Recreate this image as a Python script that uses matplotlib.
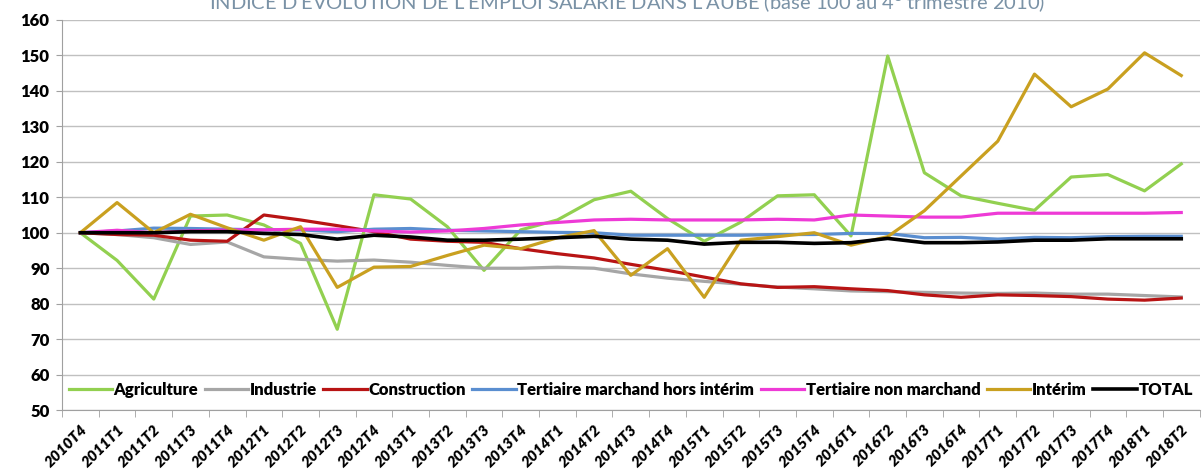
import matplotlib
matplotlib.use("Agg")
import matplotlib.pyplot as plt

quarters = ["2010T4", "2011T1", "2011T2", "2011T3", "2011T4", "2012T1", "2012T2", "2012T3",
            "2012T4", "2013T1", "2013T2", "2013T3", "2013T4", "2014T1", "2014T2", "2014T3",
            "2014T4", "2015T1", "2015T2", "2015T3", "2015T4", "2016T1", "2016T2", "2016T3",
            "2016T4", "2017T1", "2017T2", "2017T3", "2017T4", "2018T1", "2018T2"]

agriculture = [100, 92.2, 81.3, 104.7, 105, 102.2, 97, 72.8, 110.7, 109.5, 101.7, 89.4, 100.8,
               103.6, 109.3, 111.7, 104, 97.6, 103, 110.4, 110.7, 99.1, 149.8, 116.9, 110.4,
               108.3, 106.3, 115.7, 116.4, 111.8, 119.4]
industrie = [100, 99.5, 98.6, 96.7, 97.4, 93.2, 92.5, 92, 92.3, 91.7, 90.8, 90, 90, 90.3, 90,
             88.4, 87.2, 86.3, 85.5, 84.7, 84.2, 83.6, 83.4, 83.2, 83, 82.9, 83, 82.7, 82.7,
             82.3, 81.9]
construction = [100, 99.5, 99.3, 97.9, 97.6, 105, 103.6, 102, 100.3, 98.2, 97.6, 97.3, 95.5,
                94.1, 92.9, 91.1, 89.4, 87.5, 85.6, 84.6, 84.8, 84.2, 83.7, 82.5, 81.8, 82.5,
                82.3, 82, 81.3, 81, 81.6]
tertiaire_marchand = [100, 100.5, 101.3, 101.2, 101, 100.8, 100.8, 100.3, 101, 101.2, 100.7,
                      100.5, 100.3, 100.1, 100, 99.3, 99.3, 99.3, 99.3, 99.5, 99.5, 99.8, 99.8,
                      98.6, 98.7, 98.2, 98.7, 98.6, 98.9, 99, 99]
tertiaire_non_marchand = [100, 100.7, 100, 100.5, 100.8, 100.8, 101, 101, 100.5, 100.2, 100.5,
                          101.2, 102.2, 102.9, 103.6, 103.8, 103.6, 103.6, 103.6, 103.8, 103.6,
                          105, 104.7, 104.4, 104.4, 105.5, 105.5, 105.5, 105.5, 105.5, 105.7]
interim = [100, 108.5, 100, 105.2, 101.4, 97.9, 101.7, 84.6, 90.3, 90.5, 93.6, 96.5, 95.5,
           98.6, 100.6, 88, 95.5, 81.8, 97.9, 98.9, 100, 96.5, 98.9, 106.2, 116, 125.8, 144.7,
           135.5, 140.5, 150.7, 144.3]
total = [100, 100, 100, 100.3, 100.3, 99.8, 99.5, 98.2, 99.3, 98.8, 97.9, 97.9, 98.2, 98.6, 99,
         98.2, 97.9, 96.8, 97.3, 97.3, 97, 97.2, 98.4, 97.2, 97.2, 97.4, 97.9, 97.9, 98.3, 98.3,
         98.3]

series_names = ["Agriculture", "Industrie", "Construction", "Tertiaire marchand hors intérim",
                "Tertiaire non marchand", "Intérim", "TOTAL"]
y_ticks = [50, 60, 70, 80, 90, 100, 110, 120, 130, 140, 150, 160]

colors = ["#92d050", "#a6a6a6", "#b81414", "#5a8ed0", "#ee3ad6", "#c9a020", "#000000"]
widths = [2.3, 2.3, 2.3, 2.3, 2.3, 2.3, 2.6]
data = [agriculture, industrie, construction, tertiaire_marchand, tertiaire_non_marchand,
        interim, total]

FONT = ["Lato", "DejaVu Sans"]

fig = plt.figure(figsize=(12.02, 4.72), dpi=100)
ax = fig.add_axes([0.0516, 0.131, 0.9464, 0.827])

x = list(range(len(quarters)))
for vals, name, c, w in zip(data, series_names, colors, widths):
    ax.plot(x, vals, color=c, lw=w, label=name)

ax.set_xlim(-0.5, len(quarters) - 0.5)
ax.set_ylim(50, 160)
ax.set_yticks(y_ticks)
ax.set_yticklabels([str(v) for v in y_ticks], fontsize=12, fontweight="heavy", family=FONT)
ax.grid(axis="y", color="#c0c0c0", lw=1)
ax.set_axisbelow(True)

ax.set_xticks(x)
ax.set_xticklabels(quarters, rotation=45, ha="right", rotation_mode="anchor",
                   fontsize=11, fontweight="heavy", fontstyle="italic", family=FONT)
ax.tick_params(axis="x", which="major", length=0, pad=9)
ax.set_xticks([i - 0.5 for i in range(len(quarters) + 1)], minor=True)
ax.tick_params(axis="x", which="minor", length=5, color="#a0a0a0")
ax.tick_params(axis="y", length=4, color="#a0a0a0", pad=5)

for s in ["top", "right"]:
    ax.spines[s].set_visible(False)
for s in ["left", "bottom"]:
    ax.spines[s].set_color("#a0a0a0")

leg = ax.legend(loc="lower left", bbox_to_anchor=(0.0, 0.015, 1.0, 0.1), mode="expand",
                ncol=7, frameon=False,
                prop={"family": FONT, "weight": "heavy", "size": 12},
                handlelength=2.6, handletextpad=0.1, columnspacing=0.3, borderaxespad=0.0)

fig.text(0.522, 0.981, "INDICE D'ÉVOLUTION DE L'EMPLOI SALARIÉ DANS L'AUBE (base 100 au 4$^{\\mathregular{e}}$ trimestre 2010)",
         ha="center", va="baseline", fontsize=14.5, color="#7a92a6", family=FONT)

fig.savefig("out.png", dpi=100)
